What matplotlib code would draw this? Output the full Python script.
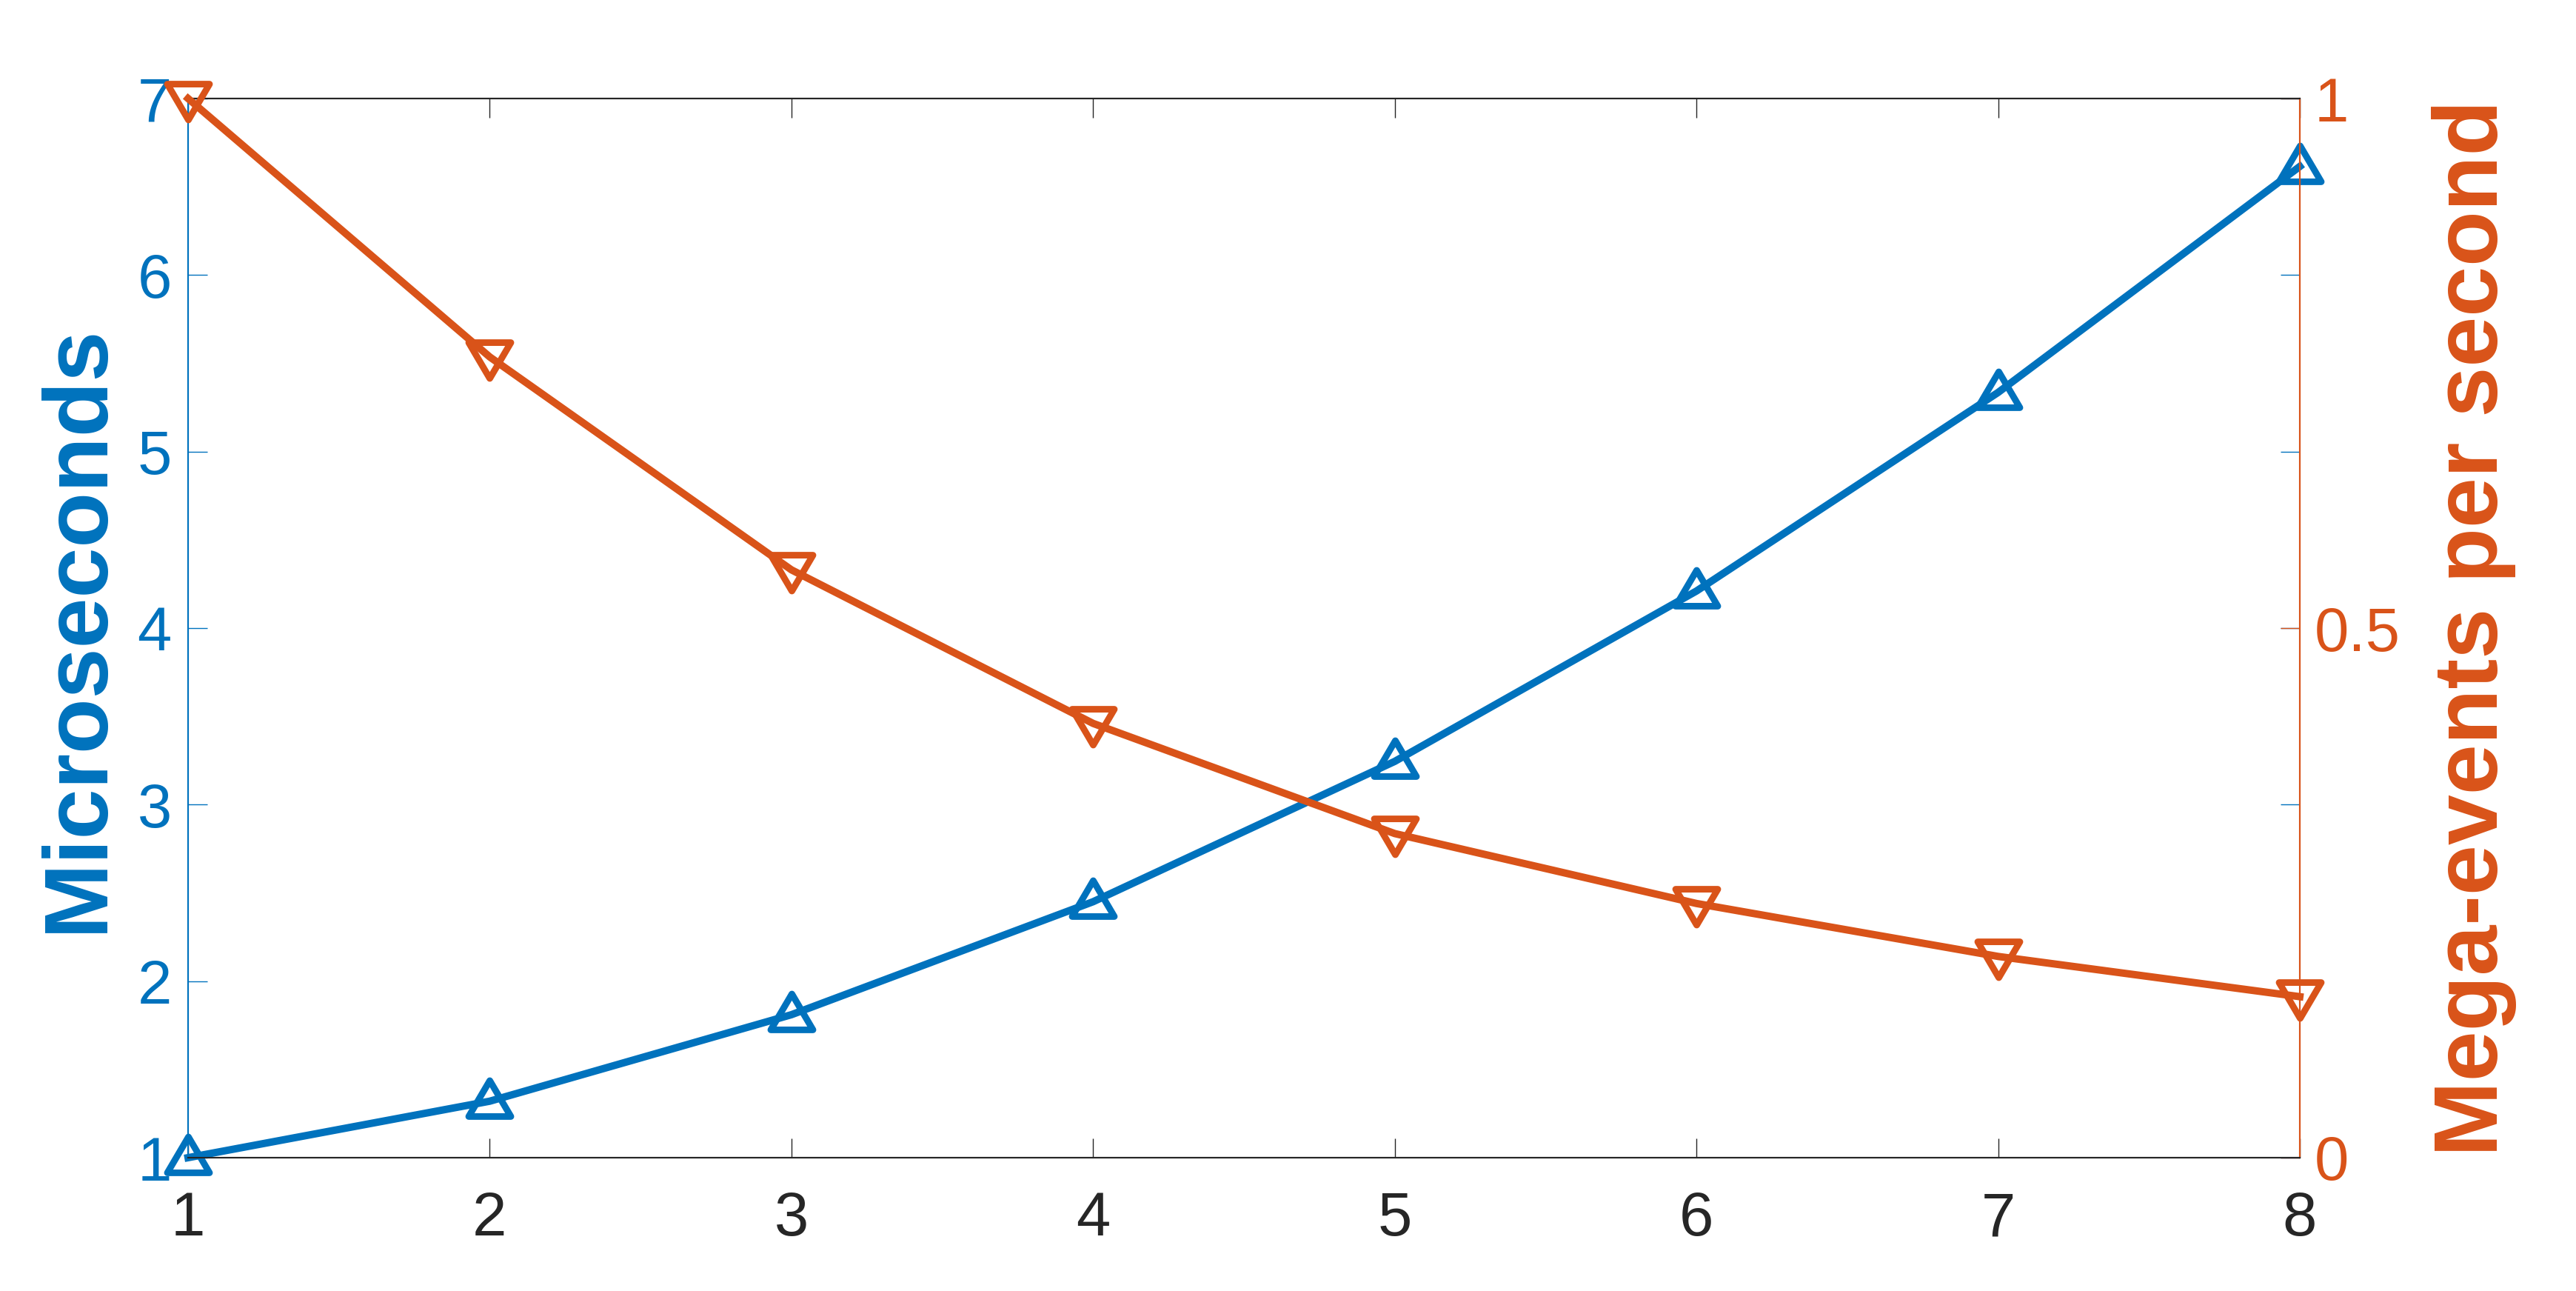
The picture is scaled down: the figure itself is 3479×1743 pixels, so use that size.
import matplotlib
matplotlib.use("Agg")
import matplotlib.pyplot as plt
from matplotlib.path import Path
from matplotlib.markers import MarkerStyle

# Data
x_vals = [1, 2, 3, 4, 5, 6, 7, 8]
microseconds = [1.0, 1.32, 1.81, 2.45, 3.245, 4.21, 5.335, 6.615]
mega_events = [1.0, 0.756, 0.555, 0.41, 0.306, 0.24, 0.19, 0.152]
x_ticks = [1, 2, 3, 4, 5, 6, 7, 8]
left_ticks = [1, 2, 3, 4, 5, 6, 7]
right_ticks = [0, 0.5, 1]
right_ticklabels = ["0", "0.5", "1"]

BLUE = "#0072BD"
ORANGE = "#D95319"
DARK = "#262626"

plt.rcParams['font.family'] = ['Liberation Sans', 'DejaVu Sans']

up_tri = MarkerStyle(Path([(-1, -0.7), (1, -0.7), (0, 1.0), (-1, -0.7)],
                          [Path.MOVETO, Path.LINETO, Path.LINETO, Path.CLOSEPOLY]),
                     joinstyle='miter')
down_tri = MarkerStyle(Path([(-1, 0.7), (1, 0.7), (0, -1.0), (-1, 0.7)],
                            [Path.MOVETO, Path.LINETO, Path.LINETO, Path.CLOSEPOLY]),
                       joinstyle='miter')

W, H = 3480, 1743
L, R, T, B = 254, 3106, 133, 1563
fig = plt.figure(figsize=(W / 200, H / 200), dpi=200)
ax = fig.add_axes([L / W, (H - B) / H, (R - L) / W, (B - T) / H])
ax2 = ax.twinx()

ax.plot(x_vals, microseconds, color=BLUE, lw=3.6, marker=up_tri, ms=20.5, mew=3.2,
        mfc='none', mec=BLUE, clip_on=False, zorder=3)
ax2.plot(x_vals, mega_events, color=ORANGE, lw=3.6, marker=down_tri, ms=20.5, mew=3.2,
         mfc='none', mec=ORANGE, clip_on=False, zorder=3)

ax.set_xlim(1, 8)
ax.set_ylim(1, 7)
ax2.set_ylim(0, 1)
ax.set_xticks(x_ticks)
ax.set_yticks(left_ticks)
ax2.set_yticks(right_ticks)
ax2.set_yticklabels(right_ticklabels)

fs = 30
ax.tick_params(axis='x', direction='in', length=9.5, width=0.5, colors=DARK,
               labelsize=fs, pad=16, top=True)
ax.tick_params(axis='y', direction='in', length=9.5, width=0.5, colors=BLUE,
               labelsize=fs, pad=8, right=True, left=True, labelright=False)
ax2.tick_params(axis='y', direction='in', length=9.5, width=0.5, colors=ORANGE,
                labelsize=fs, pad=7)

for a in (ax, ax2):
    a.spines['top'].set_color(DARK)
    a.spines['bottom'].set_color(DARK)
    a.spines['left'].set_color(BLUE)
    a.spines['right'].set_color(ORANGE)
    for s in a.spines.values():
        s.set_linewidth(0.75)

ax.set_ylabel("Microseconds", fontsize=44, fontweight='bold', color=BLUE)
ax.yaxis.set_label_coords(-0.032, 0.5)
ax2.set_ylabel("Mega-events per second", fontsize=44, fontweight='bold', color=ORANGE)
ax2.yaxis.set_label_coords(1.0625, 0.5)

fig.savefig("out.png", dpi=200, facecolor='white')
